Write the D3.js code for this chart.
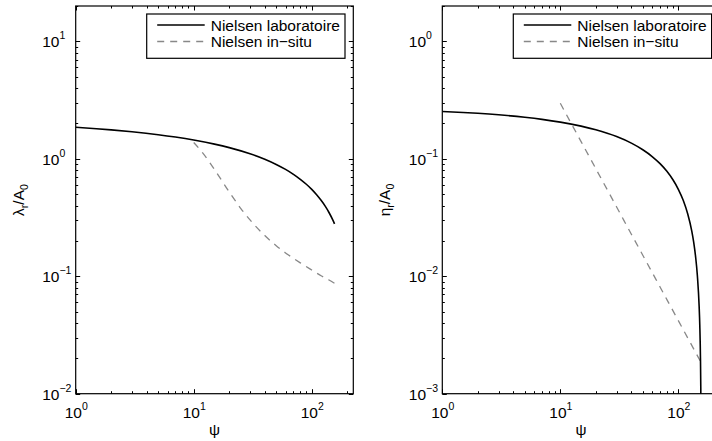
<!DOCTYPE html>
<html><head><meta charset="utf-8">
<script src="https://cdn.jsdelivr.net/npm/d3@7"></script>
<style>
html,body{margin:0;padding:0;background:#fff;overflow:hidden;}
svg{display:block;}
text{font-family:"Liberation Sans",Arial,Helvetica,sans-serif;fill:#000;}
</style></head>
<body>
<svg id="chart" width="712" height="441"></svg>
<script>
// ---- data ----
const psiLab = [1,1.5,2,3,5,7,10,15,20,30,40,50,60,70,80,90,100,110,120,130,140,150,156];
const lambdaLab = [1.855,1.804,1.763,1.699,1.604,1.531,1.445,1.334,1.245,1.103,0.991,0.895,0.812,0.737,0.669,0.607,0.549,0.494,0.443,0.395,0.349,0.305,0.279];
const psiLabEta = [1,1.5,2,3,5,7,10,15,20,30,40,50,60,70,80,90,100,110,120,130,135,140,145,150,152,154,155,155.7];
const etaLab = [0.253,0.2481,0.2439,0.2369,0.2258,0.2168,0.2054,0.1898,0.1766,0.1545,0.1359,0.1194,0.1046,0.0909,0.0782,0.0663,0.055,0.0443,0.034,0.0242,0.0194,0.0147,0.0101,0.0056,0.0038,0.0020,0.0011,0.0005];
const psiSitu = [10,12,15,20,25,30,40,50,60,70,80,100,120,140,156];
const lambdaSitu = [1.375,1.114,0.811,0.522,0.379,0.302,0.222,0.182,0.158,0.142,0.130,0.113,0.101,0.093,0.087];
const etaSitu = [0.297,0.2115,0.1401,0.0823,0.0545,0.0389,0.0228,0.0151,0.01078,0.0081,0.00633,0.00419,0.00299,0.00225,0.00184];
const seriesNames = ["Nielsen laboratoire","Nielsen in\u2212situ"];
const xDomain = [1,225];
const xTickExps = [0,1,2];
const leftYDomain = [0.01,20];
const leftYTickExps = [-2,-1,0,1];
const rightYDomain = [0.001,2];
const rightYTickExps = [-3,-2,-1,0];

const svg = d3.select("#chart");
const FS = 15.5, SUP = 10.5;

function panel(opt){
  const L = opt.left, T = 6, W = 277.6, H = 387.7;
  const x = d3.scaleLog().domain(xDomain).range([L, L+W]);
  const y = d3.scaleLog().domain(opt.yDomain).range([T+H, T]);
  const g = svg.append("g");
  const clipId = "clip"+opt.id;
  svg.append("clipPath").attr("id",clipId).append("rect")
    .attr("x",L).attr("y",T).attr("width",W).attr("height",H);

  // ticks (inside, all four sides)
  const xMinor = [], yMinor = [];
  for (let e=-4;e<=3;e++) for (let m=1;m<=9;m++){
    const v = m*Math.pow(10,e);
    if (v>=xDomain[0]*0.9999 && v<=xDomain[1]) xMinor.push({v, major:m===1});
    if (v>=opt.yDomain[0]*0.9999 && v<=opt.yDomain[1]) yMinor.push({v, major:m===1});
  }
  const tk = g.append("g").attr("stroke","#000").attr("stroke-width",1);
  xMinor.forEach(d=>{
    const px = Math.round(x(d.v))+0.5, len = d.major?4.5:2.5;
    tk.append("line").attr("x1",px).attr("x2",px).attr("y1",T+H).attr("y2",T+H-len);
    tk.append("line").attr("x1",px).attr("x2",px).attr("y1",T).attr("y2",T+len);
  });
  yMinor.forEach(d=>{
    const py = Math.round(y(d.v))+0.5, len = d.major?4.5:2.5;
    tk.append("line").attr("y1",py).attr("y2",py).attr("x1",L).attr("x2",L+len);
    tk.append("line").attr("y1",py).attr("y2",py).attr("x1",L+W).attr("x2",L+W-len);
  });

  // tick labels
  xTickExps.forEach(e=>{
    const t = g.append("text").attr("x",x(Math.pow(10,e))+0.5).attr("y",418).attr("text-anchor","middle").attr("font-size",FS);
    t.append("tspan").text("10");
    t.append("tspan").attr("font-size",SUP).attr("dy",-8).text(e<0?"\u2212"+(-e):String(e));
  });
  opt.yTicks.forEach(e=>{
    const t = g.append("text").attr("x",L-33.5).attr("y",y(Math.pow(10,e))+6).attr("text-anchor","start").attr("font-size",FS);
    t.append("tspan").text("10");
    t.append("tspan").attr("font-size",SUP).attr("dy",-8).text(e<0?"\u2212"+(-e):String(e));
  });

  // axis labels
  g.append("text").attr("x",L+W/2).attr("y",435).attr("text-anchor","middle").attr("font-size",FS).text("\u03C8");
  const yl = g.append("text").attr("transform",`translate(${L-52},200) rotate(-90)`).attr("text-anchor","middle").attr("font-size",FS);
  yl.append("tspan").text(opt.ySym);
  yl.append("tspan").attr("font-size",SUP).attr("dy",4).text("r");
  yl.append("tspan").attr("dy",-4).text("/A");
  yl.append("tspan").attr("font-size",SUP).attr("dy",4).text("0");

  // lines
  const line = d3.line().x(d=>x(d[0])).y(d=>y(d[1])).curve(d3.curveMonotoneX);
  const plot = g.append("g").attr("clip-path",`url(#${clipId})`);
  plot.append("path").datum(opt.situ).attr("d",line).attr("fill","none")
    .attr("stroke","#888").attr("stroke-width",1.3).attr("stroke-dasharray","7,6");
  plot.append("path").datum(opt.lab).attr("d",line).attr("fill","none")
    .attr("stroke","#000").attr("stroke-width",1.6);

  // frame
  g.append("rect").attr("x",L).attr("y",T).attr("width",W).attr("height",H)
    .attr("fill","none").attr("stroke","#000").attr("stroke-width",1.2);

  // legend
  const lx = L+71, ly = 14, lw = 198.3, lh = 44.3;
  const lg = g.append("g");
  lg.append("rect").attr("x",lx).attr("y",ly).attr("width",lw).attr("height",lh)
    .attr("fill","#fff").attr("stroke","#000").attr("stroke-width",1.2);
  lg.append("line").attr("x1",lx+10.5).attr("x2",lx+58).attr("y1",25).attr("y2",25)
    .attr("stroke","#000").attr("stroke-width",1.6);
  lg.append("line").attr("x1",lx+10.5).attr("x2",lx+58).attr("y1",41.5).attr("y2",41.5)
    .attr("stroke","#888").attr("stroke-width",1.3).attr("stroke-dasharray","7,6");
  lg.append("text").attr("x",lx+64).attr("y",30.5).attr("font-size",FS).text(seriesNames[0]);
  lg.append("text").attr("x",lx+64).attr("y",47).attr("font-size",FS).text(seriesNames[1]);
}

panel({id:"L", left:75.7, yDomain:leftYDomain, yTicks:leftYTickExps, ySym:"\u03BB",
  lab: psiLab.map((p,i)=>[p,lambdaLab[i]]), situ: psiSitu.map((p,i)=>[p,lambdaSitu[i]])});
panel({id:"R", left:442.3, yDomain:rightYDomain, yTicks:rightYTickExps, ySym:"\u03B7",
  lab: psiLabEta.map((p,i)=>[p,etaLab[i]]), situ: psiSitu.map((p,i)=>[p,etaSitu[i]])});
</script>
</body></html>
